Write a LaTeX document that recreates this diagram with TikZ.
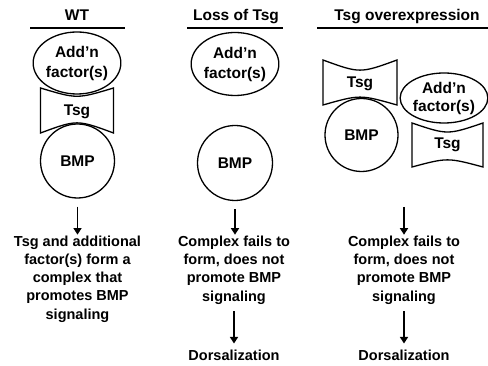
\documentclass[tikz,border=0pt]{standalone}
\usepackage{fontspec}
\setmainfont{Liberation Sans}
\usetikzlibrary{arrows.meta,positioning,shapes.geometric}

\newcommand{\addn}{Add{\char"27}n\\factor(s)}

\tikzset{
  part/.style={draw, line width=1.3pt, inner sep=0pt, align=center,
    font=\fontsize{15.5}{20}\selectfont\bfseries},
  label/.style={inner sep=0pt, align=center, font=\fontsize{15.5}{19}\selectfont\bfseries},
  head/.style={inner sep=0pt, anchor=base, font=\fontsize{15.5}{18}\selectfont\bfseries},
  note/.style={inner sep=1pt, align=center, font=\fontsize{14.5}{18.2}\selectfont\bfseries},
  rule/.style={line width=2.5pt},
  tsgline/.style={line width=1.3pt, line join=miter},
  arr/.style={line width=1.8pt, -{Triangle[width=8pt,length=6.5pt]}},
}

\begin{document}
\begin{tikzpicture}[x=1pt, y=-1pt]
    \useasboundingbox (0,0) rectangle (488,366);

    % headings
    \node[head] (wt)   at (77,21)  {WT};
    \node[head] (loss) at (236,21) {Loss of Tsg};
    \node[head] (over) at (407,21) {Tsg overexpression};
    \draw[rule] (30,28) -- (125,28);
    \draw[rule] (187,28) -- (283,28);
    \draw[rule] (317,28) -- (488,28);

    % WT
    \node[part, ellipse, minimum width=81pt, minimum height=62pt] (addn1) at (77,63) {\addn};
    \draw[tsgline] (40.5,88) .. controls (77,99) .. (113.5,88) -- (113.5,133)
        .. controls (77,119.5) .. (40.5,133) -- cycle;
    \node[label] (tsg1) at (77,112) {Tsg};
    \node[part, circle, minimum size=74pt] (bmp1) at (77.5,161) {BMP};

    % loss of Tsg
    \node[part, ellipse, minimum width=84pt, minimum height=63pt] (addn2) at (235,64) {\addn};
    \node[part, circle, minimum size=75pt] (bmp2) at (235,163) {BMP};

    % Tsg overexpression
    \draw[tsgline] (323,60) .. controls (360,73.5) .. (397,60) -- (397,105)
        .. controls (360,94.5) .. (323,105) -- cycle;
    \node[label] (tsg3a) at (360,84) {Tsg};
    \node[part, circle, minimum size=73pt] (bmp3) at (361.5,135) {BMP};
    \node[part, ellipse, minimum width=78pt, minimum height=50pt,
        font=\fontsize{15.5}{18}\selectfont\bfseries] (addn3) at (444,98) {\addn};
    \draw[tsgline] (412,123) .. controls (447.5,135) .. (483,123) -- (483,167)
        .. controls (447.5,157.5) .. (412,167) -- cycle;
    \node[label] (tsg3b) at (447.5,145) {Tsg};

    % outcomes
    \node[note] (res1) at (77.5,279) {Tsg and additional\\factor(s) form a\\complex that\\promotes BMP\\signaling};
    \node[note] (res2) at (234,270) {Complex fails to\\form, does not\\promote BMP\\signaling};
    \node[note] (res3) at (404,270) {Complex fails to\\form, does not\\promote BMP\\signaling};
    \node[note] (dors2) at (234,355) {Dorsalization};
    \node[note] (dors3) at (404,355) {Dorsalization};
    \coordinate (top3) at (404,207);

    \draw[arr] (bmp1.south) ++(0,8) coordinate (s1) -- (s1 |- res1.north);
    \draw[arr, shorten <=8pt] (bmp2.south) -- (bmp2.south |- res2.north);
    \draw[arr] (top3) -- (top3 |- res3.north);
    \draw[arr, shorten <=6pt, shorten >=5pt] (res2) -- (dors2);
    \draw[arr, shorten <=6pt, shorten >=5pt] (res3) -- (dors3);
\end{tikzpicture}
\end{document}
